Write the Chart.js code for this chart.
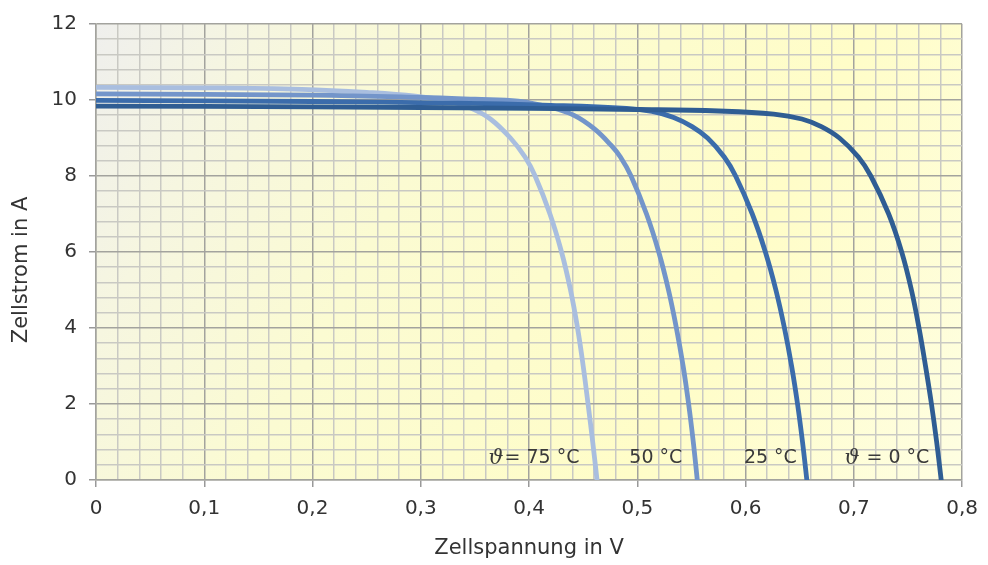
<!DOCTYPE html>
<html>
<head>
<meta charset="utf-8">
<script src="https://cdn.jsdelivr.net/npm/chart.js@4/dist/chart.umd.min.js"></script>
<style>
  html, body { margin: 0; padding: 0; background: #fff; }
  #wrap { width: 988px; height: 565px; }
</style>
</head>
<body>
<div id="wrap"><canvas id="ivChart" width="988" height="565"></canvas></div>
<script>
// I-V curves of a solar cell at four temperatures
const v0 = [0, 0.2, 0.4, 0.5, 0.575, 0.626, 0.652, 0.670, 0.6867, 0.7042, 0.7157, 0.7322, 0.7442, 0.7532, 0.7602, 0.7662, 0.7717, 0.7765, 0.7807];
const i0 = [9.84, 9.82, 9.78, 9.75, 9.71, 9.63, 9.50, 9.30, 9.00, 8.50, 8.00, 7.00, 6.00, 5.00, 4.00, 3.00, 2.00, 1.00, 0];

const v25 = [0, 0.2, 0.33, 0.42, 0.49, 0.5136, 0.5336, 0.5506, 0.5649, 0.5803, 0.5908, 0.6062, 0.6183, 0.628, 0.6359, 0.6425, 0.648, 0.6526, 0.6566];
const i25 = [9.99, 9.96, 9.92, 9.86, 9.78, 9.70, 9.54, 9.30, 9.00, 8.50, 8.00, 7.00, 6.00, 5.00, 4.00, 3.00, 2.00, 1.00, 0];

const v50 = [0, 0.2, 0.3, 0.35, 0.39, 0.4205, 0.442, 0.4604, 0.4757, 0.4844, 0.4942, 0.5085, 0.5198, 0.5288, 0.5361, 0.5423, 0.5474, 0.5517, 0.5554];
const i50 = [10.16, 10.13, 10.07, 10.02, 9.97, 9.80, 9.59, 9.24, 8.81, 8.50, 8.00, 7.00, 6.00, 5.00, 4.00, 3.00, 2.00, 1.00, 0];

const v75 = [0, 0.1, 0.19, 0.25, 0.295, 0.3288, 0.3468, 0.3643, 0.3828, 0.3963, 0.4056, 0.4193, 0.430, 0.4383, 0.4448, 0.450, 0.4545, 0.4588, 0.4628];
const i75 = [10.33, 10.32, 10.28, 10.20, 10.10, 9.95, 9.78, 9.50, 9.00, 8.50, 8.00, 7.00, 6.00, 5.00, 4.00, 3.00, 2.00, 1.00, 0];

const curveLabels = ['\u03D1 = 0 °C', '25 °C', '50 °C', '\u03D1= 75 °C'];
const curveColors = ['#2f5d93', '#3b6cab', '#7395ca', '#a9bedf'];
// where each label ends (V) and sits (A)
const labelV = [0.7697, 0.6474, 0.5416, 0.4466];
const labelI = [0.57, 0.57, 0.57, 0.57];

const xTicks = [0, 0.1, 0.2, 0.3, 0.4, 0.5, 0.6, 0.7, 0.8];
const yTicks = [0, 2, 4, 6, 8, 10, 12];

function toPoints(vs, is) {
  return vs.map((v, k) => ({ x: v, y: is[k] }));
}

const FONT = 'DejaVu Sans, Verdana, sans-serif';

// yellowish gradient behind the plot area
const bgPlugin = {
  id: 'plotBg',
  beforeDraw(chart) {
    const { ctx, chartArea: a } = chart;
    const g = ctx.createLinearGradient(a.left, a.top, a.right, a.bottom);
    g.addColorStop(0, '#efefed');
    g.addColorStop(0.15, '#f6f6e0');
    g.addColorStop(0.35, '#fbfbd2');
    g.addColorStop(0.7, '#fffdc8');
    g.addColorStop(1, '#fefee2');
    ctx.save();
    ctx.fillStyle = g;
    ctx.fillRect(a.left, a.top, a.right - a.left, a.bottom - a.top);
    ctx.restore();
  }
};

// temperature labels next to the curves, plus the y axis title
const labelPlugin = {
  id: 'curveLabels',
  afterDatasetsDraw(chart) {
    const { ctx, scales } = chart;
    ctx.save();
    ctx.fillStyle = '#3a3a3a';
    ctx.textBaseline = 'middle';
    curveLabels.forEach((txt, k) => {
      const x = scales.x.getPixelForValue(labelV[k]);
      const y = scales.y.getPixelForValue(labelI[k]);
      let rest = txt;
      ctx.font = '19px ' + FONT;
      ctx.textAlign = 'right';
      if (txt.charAt(0) === '\u03D1') {
        rest = txt.slice(1);
        ctx.fillText(rest, x, y);
        const w = ctx.measureText(rest).width;
        ctx.font = 'italic 21px DejaVu Serif, serif';
        ctx.fillText('\u03D1', x - w - 1, y);
      } else {
        ctx.fillText(rest, x, y);
      }
    });
    // y axis title
    ctx.translate(22, 270);
    ctx.rotate(-Math.PI / 2);
    ctx.font = '21px ' + FONT;
    ctx.textAlign = 'center';
    ctx.fillStyle = '#333';
    ctx.fillText('Zellstrom in A', 0, 0);
    ctx.restore();
  }
};

const isMajorX = v => Math.abs(v * 10 - Math.round(v * 10)) < 1e-6;
const isMajorY = v => Math.abs(v / 2 - Math.round(v / 2)) < 1e-6;

const series = [[v0, i0], [v25, i25], [v50, i50], [v75, i75]];

new Chart(document.getElementById('ivChart').getContext('2d'), {
  type: 'line',
  data: {
    datasets: series.map((s, k) => ({
      label: curveLabels[k],
      data: toPoints(s[0], s[1]),
      borderColor: curveColors[k],
      borderWidth: 4.8,
      pointRadius: 0,
      fill: false,
      tension: 0.4,
      borderCapStyle: 'round',
      borderJoinStyle: 'round'
    }))
  },
  options: {
    responsive: false,
    animation: false,
    layout: { padding: { top: 17, right: 22, left: 0, bottom: 0 } },
    plugins: {
      legend: { display: false },
      tooltip: { enabled: false }
    },
    scales: {
      x: {
        type: 'linear',
        min: 0,
        max: 0.8,
        afterBuildTicks(scale) {
          const t = [];
          for (let n = 0; n <= 40; n++) t.push({ value: n * 0.02 });
          scale.ticks = t;
        },
        afterFit(scale) { scale.height = 85; },
        ticks: {
          autoSkip: false,
          maxRotation: 0,
          padding: 10,
          color: '#333',
          font: { family: FONT, size: 20 },
          callback: v => (isMajorX(v) && xTicks.some(t => Math.abs(t - v) < 1e-6)) ? (Math.round(v * 10) / 10).toString().replace('.', ',') : ''
        },
        grid: {
          color: c => isMajorX(c.tick.value) ? '#a3a39e' : '#c9c9c3',
          lineWidth: 1.5,
          tickLength: 7,
          tickColor: c => isMajorX(c.tick.value) ? '#999' : 'rgba(0,0,0,0)'
        },
        border: { color: '#a3a39e', width: 1.5 },
        title: {
          display: true,
          text: 'Zellspannung in V',
          color: '#333',
          font: { family: FONT, size: 21 },
          padding: { top: 6 }
        }
      },
      y: {
        type: 'linear',
        min: 0,
        max: 12,
        afterBuildTicks(scale) {
          const t = [];
          for (let n = 0; n <= 30; n++) t.push({ value: n * 0.4 });
          scale.ticks = t;
        },
        afterFit(scale) { scale.width = 96; },
        ticks: {
          autoSkip: false,
          padding: 12,
          color: '#333',
          font: { family: FONT, size: 20 },
          callback: v => (isMajorY(v) && yTicks.some(t => Math.abs(t - v) < 1e-6)) ? Math.round(v).toString() : ''
        },
        grid: {
          color: c => isMajorY(c.tick.value) ? '#a3a39e' : '#c9c9c3',
          lineWidth: 1.5,
          tickLength: 7,
          tickColor: c => isMajorY(c.tick.value) ? '#999' : 'rgba(0,0,0,0)'
        },
        border: { color: '#a3a39e', width: 1.5 },
        title: { display: false }
      }
    }
  },
  plugins: [bgPlugin, labelPlugin]
});
</script>
</body>
</html>
